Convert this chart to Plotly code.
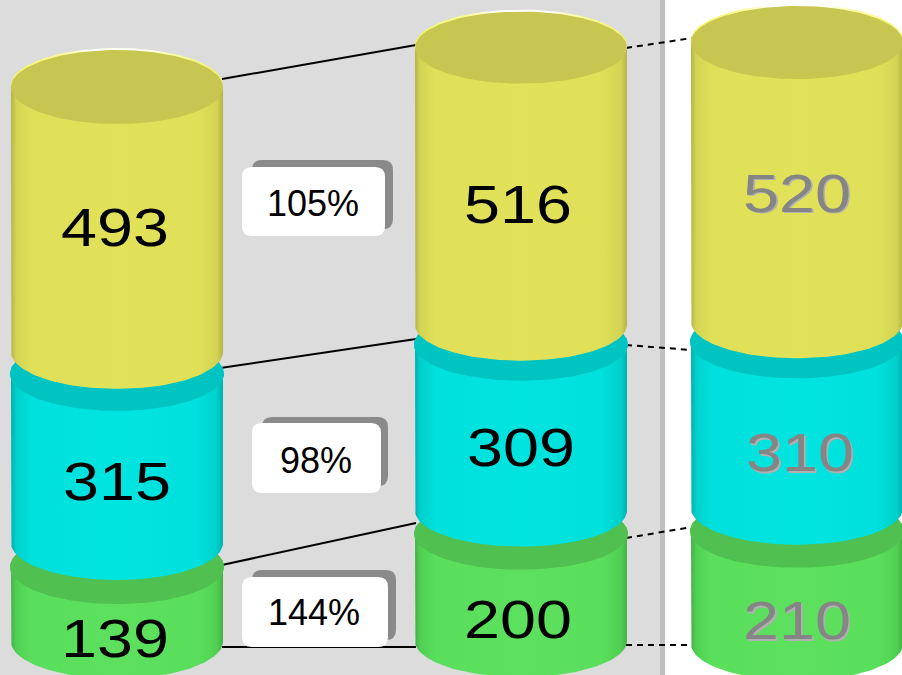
import numpy as np
import plotly.graph_objects as go

# ---- data ----
yellow_values = [493, 516, 520]
cyan_values = [315, 309, 310]
green_values = [139, 200, 210]

# ---- layout constants (pixels of the 902x675 page) ----
W, H = 902, 675
SCALE = 0.537            # px per value unit
ZERO_PX = 641.6          # pixel row of y = 0
CENTERS = [117, 521, 797]
RX = 106
RY = [37, 36, 36.5]
BASE_PX = [641.6, 641, 644]
GAPS_PX = [[24, 22], [23, 20], [23, 20]]   # green/cyan, cyan/yellow

STYLE = {
    "yellow": dict(top="#c6c650", rim="#f4f468", bright="#e2e25a", main="#e0e058", edge="#d4d454", dark="#b4b44a"),
    "cyan": dict(top="#00c4c2", rim="#00d4d2", bright="#00e4e0", main="#00e0dc", edge="#00d0cc", dark="#00b0ae"),
    "green": dict(top="#50c050", rim="#58d058", bright="#5ce05e", main="#5adf5c", edge="#50d052", dark="#46b048"),
}


def u(px):
    """pixel length -> value units"""
    return px / SCALE


def y_of(px):
    return (ZERO_PX - px) / SCALE


fig = go.Figure()

# boundaries of every stack, in value units
stacks = []
for i in range(3):
    base = y_of(BASE_PX[i])
    g_top = base + green_values[i]
    c_bot = g_top + u(GAPS_PX[i][0])
    c_top = c_bot + cyan_values[i]
    y_bot = c_top + u(GAPS_PX[i][1])
    y_top = y_bot + yellow_values[i]
    stacks.append(dict(base=base, green=(base, g_top), cyan=(c_bot, c_top), yellow=(y_bot, y_top)))

# ---- connectors (behind the cylinders) ----
LINKS = [
    (0, 1, [-8, -6, -2, 5.4], [-2.6, -5.7, -10.6, 6], "solid"),
    (1, 2, [0.4, 0.3, 4.4, 4], [-4.5, 8.3, -4.2, 1], "6px,5px"),
]
for a, b, off_a, off_b, dash in LINKS:
    bounds_a = [stacks[a]["yellow"][1], stacks[a]["cyan"][1], stacks[a]["green"][1], stacks[a]["base"]]
    bounds_b = [stacks[b]["yellow"][1], stacks[b]["cyan"][1], stacks[b]["green"][1], stacks[b]["base"]]
    for k in range(4):
        fig.add_trace(go.Scatter(
            x=[CENTERS[a] + RX - 1, CENTERS[b] - RX + 1],
            y=[bounds_a[k] - u(off_a[k]), bounds_b[k] - u(off_b[k])],
            mode="lines", line=dict(color="#000000", width=2, dash=dash),
            hoverinfo="skip", showlegend=False))


def gradient(x0, x1, s):
    return dict(type="horizontal", start=x0, stop=x1, colorscale=[
        [0, s["dark"]], [0.025, s["edge"]], [0.1, s["main"]], [0.5, s["bright"]],
        [0.88, s["main"]], [0.97, s["edge"]], [1, s["dark"]]])


def cylinder(i, name):
    s = STYLE[name]
    bottom, top = stacks[i][name]
    cx, ry = CENTERS[i], u(RY[i])
    t = np.linspace(np.pi, 2 * np.pi, 70)
    # body: straight sides and rounded lower edge
    xs = np.r_[cx - RX, cx + RX * np.cos(t), cx + RX, cx - RX]
    ys = np.r_[top, bottom + ry * np.sin(t), top, top]
    fig.add_trace(go.Scatter(x=xs, y=ys, mode="lines", line=dict(width=0), fill="toself",
                             fillgradient=gradient(cx - RX, cx + RX, s),
                             hoverinfo="skip", showlegend=False))
    # lit rim and lid
    a = np.linspace(0, 2 * np.pi, 140)
    extra = 1 if name != "yellow" else 0
    if name == "yellow":
        rim_fill = dict(fillgradient=dict(type="horizontal", start=cx - RX, stop=cx + RX, colorscale=[
            [0, s["rim"]], [0.25, "#fbfb9a"], [0.38, "#ffffff"], [0.62, "#ffffff"], [0.78, "#fbfb9a"], [1, s["rim"]]]))
    else:
        rim_fill = dict(fillcolor=s["rim"])
    fig.add_trace(go.Scatter(x=cx + (RX + extra) * np.cos(a), y=top + u(2 if name == "yellow" else 0) + ry * np.sin(a),
                             mode="lines", line=dict(width=0), fill="toself", hoverinfo="skip",
                             showlegend=False, **rim_fill))
    fig.add_trace(go.Scatter(x=cx + (RX + extra) * np.cos(a), y=top + ry * np.sin(a),
                             mode="lines", line=dict(width=0), fill="toself", fillcolor=s["top"],
                             hoverinfo="skip", showlegend=False))


for i in range(3):
    for name in ("green", "cyan", "yellow"):
        cylinder(i, name)

# ---- value labels ----
LABEL_OFF = {"yellow": [13, 24, 16.5], "cyan": [28, 25, 33], "green": [39.5, 37, 38.5]}
LABEL_DX = {"yellow": [-2, -3, 0], "cyan": [0, 0, 3], "green": [-2, -3, 0]}
VALUES = {"yellow": yellow_values, "cyan": cyan_values, "green": green_values}
for name in ("yellow", "cyan", "green"):
    for i in range(3):
        bottom, top = stacks[i][name]
        font = dict(family="Liberation Sans", size=53, color="#000000")
        if i == 2:
            font = dict(family="Liberation Sans", size=53, color="#858585", shadow="1.5px 1.5px 0px #b0b0b0")
        fig.add_trace(go.Scatter(
            x=[CENTERS[i] + LABEL_DX[name][i]], y=[(bottom + top) / 2 - u(LABEL_OFF[name][i])],
            mode="text", text=[str(VALUES[name][i])], textposition="middle center",
            textfont=font, hoverinfo="skip", showlegend=False))


# ---- ratio call-outs between first and second stack ----
def rounded(x0, y0, x1, y1, r=10):
    return (f"M {x0 + r} {y_of(y0)} L {x1 - r} {y_of(y0)} Q {x1} {y_of(y0)} {x1} {y_of(y0 + r)} "
            f"L {x1} {y_of(y1 - r)} Q {x1} {y_of(y1)} {x1 - r} {y_of(y1)} "
            f"L {x0 + r} {y_of(y1)} Q {x0} {y_of(y1)} {x0} {y_of(y1 - r)} "
            f"L {x0} {y_of(y0 + r)} Q {x0} {y_of(y0)} {x0 + r} {y_of(y0)} Z")


BOXES = [(242, 167, 385, 236, 393, 160, yellow_values, 313, 203),
         (252, 423, 381, 493, 388, 417, cyan_values, 316, 460),
         (242, 577, 388, 647, 396, 570, green_values, 314, 612)]
shapes = [
    dict(type="rect", xref="x", yref="paper", x0=0, x1=660, y0=0, y1=1, fillcolor="#dcdcdc", line_width=0, layer="below"),
    dict(type="rect", xref="x", yref="paper", x0=660, x1=665, y0=0, y1=1, fillcolor="#c0c0c0", line_width=0, layer="below"),
]
for x0, y0, x1, y1, sx, sy, vals, tx, ty in BOXES:
    shapes.append(dict(type="path", path=rounded(x0 + 10, sy, sx, y1 - 7), xref="x", yref="y",
                       fillcolor="#8a8a8a", line_width=0, layer="above"))
    shapes.append(dict(type="path", path=rounded(x0, y0, x1, y1), xref="x", yref="y",
                       fillcolor="#ffffff", line_width=0, layer="above"))
annotations = []
for x0, y0, x1, y1, sx, sy, vals, tx, ty in BOXES:
    annotations.append(dict(x=tx, y=y_of(ty), xref="x", yref="y", showarrow=False,
                            text=f"{round(vals[1] / vals[0] * 100)}%",
                            font=dict(family="Liberation Sans", size=36, color="#000000")))

fig.update_layout(
    width=W, height=H, autosize=False,
    margin=dict(l=0, r=0, t=0, b=0),
    paper_bgcolor="#ffffff", plot_bgcolor="#ffffff",
    showlegend=False, shapes=shapes, annotations=annotations,
    xaxis=dict(range=[0, W], visible=False, fixedrange=True),
    yaxis=dict(range=[y_of(H), y_of(0)], visible=False, fixedrange=True),
)
PAGE_CSS = ("var s=document.createElement('style');"
            "s.textContent='html,body{margin:0;padding:0;overflow:hidden}"
            ".textpoint text{transform-box:fill-box;transform-origin:center;transform:scaleX(1.22)}';"
            "document.head.appendChild(s);")
fig.write_html("out.html", config=dict(displayModeBar=False), post_script=PAGE_CSS)
